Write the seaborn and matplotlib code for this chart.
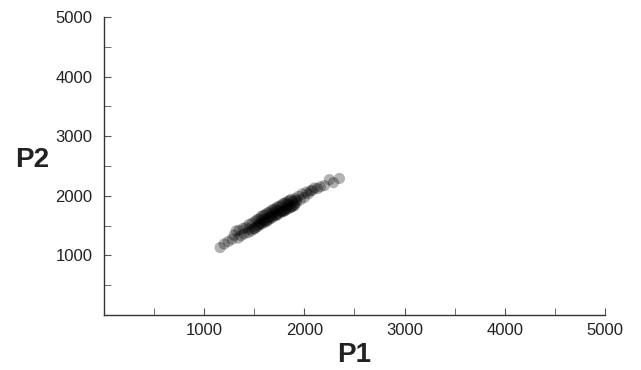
import numpy as np
import pandas as pd
import seaborn as sns
import matplotlib
matplotlib.use("Agg")
import matplotlib.pyplot as plt
from matplotlib.ticker import MultipleLocator

# values
p1 = [1160, 1200, 1240, 1280, 1300, 1320, 1340, 1350, 1370, 1390, 1400, 1420,
      1440, 1450, 1470, 1480, 1500, 1510, 1520, 1530, 1540, 1550, 1560, 1570,
      1580, 1590, 1600, 1610, 1620, 1630, 1640, 1650, 1660, 1670, 1680, 1690,
      1700, 1710, 1720, 1730, 1740, 1750, 1760, 1770, 1780, 1790, 1800, 1810,
      1820, 1830, 1840, 1850, 1860, 1870, 1880, 1890, 1900, 1910, 1920, 1940,
      1960, 1980, 2000, 2020, 2040, 2060, 2080, 2100, 2130, 2160, 2200, 2250,
      2290, 2350, 1560, 1620, 1680, 1720, 1760, 1800, 1850, 1900, 1580, 1640,
      1700, 1780, 1830, 1870, 1450, 1500, 1600, 1740, 1820, 1920, 1660, 1540]
p2 = [1130, 1190, 1230, 1270, 1340, 1410, 1290, 1420, 1330, 1450, 1360, 1470,
      1380, 1520, 1410, 1540, 1440, 1570, 1470, 1600, 1490, 1610, 1520, 1650,
      1530, 1670, 1560, 1680, 1580, 1710, 1590, 1720, 1620, 1750, 1630, 1770,
      1660, 1780, 1680, 1810, 1690, 1820, 1720, 1840, 1730, 1870, 1750, 1880,
      1770, 1900, 1780, 1920, 1800, 1940, 1820, 1910, 1850, 1950, 1880, 1990,
      1930, 2030, 1970, 2060, 2030, 2080, 2090, 2130, 2120, 2150, 2170, 2270,
      2220, 2290, 1540, 1560, 1680, 1670, 1750, 1740, 1850, 1830, 1590, 1630,
      1720, 1740, 1860, 1810, 1440, 1450, 1600, 1760, 1800, 1920, 1650, 1510]

df = pd.DataFrame({"P1": p1, "P2": p2})

sns.set_style("white")
plt.rcParams['font.family'] = ['Liberation Sans', 'DejaVu Sans']

fig = plt.figure(figsize=(6.41, 3.70), dpi=100)
ax = fig.add_axes([0.162, 0.149, 0.782, 0.805])

sns.scatterplot(data=df, x="P1", y="P2", ax=ax, color="black", alpha=0.3,
                s=65, edgecolor="none")

ax.set_xlim(0, 5000)
ax.set_ylim(0, 5000)
ax.xaxis.set_minor_locator(MultipleLocator(500))
ax.yaxis.set_minor_locator(MultipleLocator(500))
ax.set_xticks([1000, 2000, 3000, 4000, 5000])
ax.set_yticks([1000, 2000, 3000, 4000, 5000])

sns.despine(ax=ax)
for s in ["left", "bottom"]:
    ax.spines[s].set_color("#333333")
    ax.spines[s].set_linewidth(1.0)

ax.tick_params(which="both", direction="in", color="#555555", labelsize=12,
               labelcolor="#222222", bottom=True, left=True, length=5)
ax.tick_params(axis="y", pad=8)
ax.tick_params(axis="x", pad=6)

ax.set_xlabel("P1", fontsize=20, fontweight="bold", color="#222222", labelpad=3)
ax.set_ylabel("P2", fontsize=20, fontweight="bold", color="#222222",
              rotation=0, va="center", ha="center")
ax.yaxis.set_label_coords(-0.142, 0.52)

plt.savefig("out.png", dpi=100)
